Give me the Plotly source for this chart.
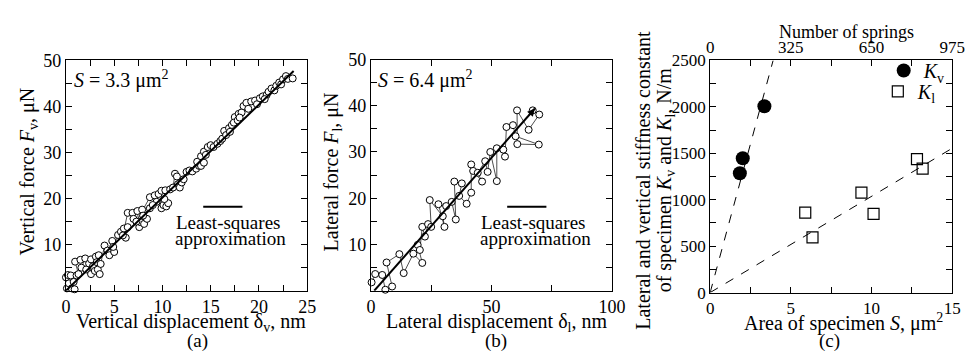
import plotly.graph_objects as go

FONT = "Liberation Serif"
W, H = 975, 354

# ---------------- data ----------------
# (a) vertical force vs vertical displacement, S = 3.3 um2
a_disp = [0.1, 0.3, 0.0, 0.2, 0.8, 0.6, 0.9, 0.5, 1.1,
          1.3, 0.95, 1.5, 2.0, 1.6, 2.1, 2.6, 2.4, 2.6, 3.1, 2.8, 3.0, 3.3, 3.5, 3.4, 3.2, 3.6,
          4.0, 4.3, 4.5, 4.8, 5.0, 4.9, 5.4, 5.7, 6.2, 6.0, 6.4, 5.9,
          6.4, 6.9, 7.0, 7.4, 7.6, 7.7, 7.9, 8.1, 8.4, 8.0, 8.7, 7.3,
          8.7, 9.2, 9.4, 9.6, 9.9, 10.3, 9.9, 10.1, 10.4, 10.6, 10.2, 9.0,
          10.8, 11.1, 11.3, 11.5, 11.6, 11.8, 12.0, 12.2,
          12.5, 12.8, 13.1, 13.5, 13.8, 13.6, 14.0, 14.3, 14.0, 14.3, 14.5, 14.7, 15.0, 15.3,
          15.7, 16.0, 16.2, 16.4, 16.6, 16.9, 17.0, 17.2, 17.5, 17.4, 17.9, 17.8, 18.2, 18.0,
          18.4, 18.7, 18.9, 19.2, 19.6, 19.8, 20.1, 20.4, 20.8, 21.0, 20.6,
          21.3, 21.6, 21.8, 22.1, 22.3, 22.5, 22.8, 23.0, 23.5]
a_force = [0.5, 1.6, 2.9, 3.4, 1.9, 0.5, 0.3, 3.3, 3.3,
           3.6, 6.3, 6.7, 7.0, 5.0, 4.6, 3.6, 5.9, 6.8, 7.4, 5.3, 4.3, 4.6, 3.6, 7.7, 6.2, 5.8,
           9.8, 8.7, 7.7, 10.8, 8.4, 9.5, 12.1, 12.8, 11.5, 13.5, 13.8, 12.0,
           16.9, 16.9, 15.6, 17.3, 13.8, 14.9, 17.6, 14.5, 15.6, 16.3, 17.9, 15.0,
           20.3, 20.7, 19.3, 21.0, 21.7, 21.8, 17.9, 18.6, 18.3, 19.0, 19.9, 18.6,
           22.0, 22.4, 25.4, 24.8, 23.1, 22.4, 23.5, 24.2,
           25.8, 26.1, 25.9, 26.5, 27.1, 28.0, 27.1, 27.8, 29.2, 30.2, 29.5, 31.2, 31.6, 31.2,
           31.9, 32.5, 33.0, 34.7, 33.8, 35.3, 34.5, 36.0, 37.7, 36.5, 38.4, 37.0, 38.7, 37.6,
           40.1, 40.8, 39.5, 41.1, 41.3, 40.5, 41.8, 42.2, 42.5, 43.2, 41.6,
           43.9, 43.5, 44.5, 45.2, 44.8, 45.9, 46.6, 46.0, 46.1]
fit_a_x = [0.0, 23.6]
fit_a_y = [0.0, 47.7]

# (b) lateral force vs lateral displacement, S = 6.4 um2
b_disp = [0.3, 1.8, 4.7, 6.0, 8.8, 6.5, 11.8, 13.6, 17.6, 21.3, 19.4, 20.3,
          21.3, 22.4, 23.7, 25.0, 24.4, 29.8, 30.5, 28.0, 31.2, 33.5, 35.2,
          34.6, 37.7, 36.6, 39.7, 41.6, 41.6, 42.4, 46.1, 44.3, 47.4, 48.4,
          49.5, 52.2, 52.2, 54.9, 55.6, 56.2, 58.9, 60.0, 69.6, 60.7, 60.6,
          65.4, 69.8, 67.1]
b_force = [1.8, 3.6, 3.4, 0.2, 0.9, 6.1, 7.9, 3.8, 8.0, 6.0, 9.9, 8.8,
           13.8, 11.7, 14.4, 13.8, 19.6, 16.1, 13.8, 18.7, 18.3, 19.2, 15.4,
           23.6, 23.2, 20.5, 18.8, 21.2, 27.3, 25.9, 23.6, 25.5, 28.0, 25.7,
           30.0, 23.7, 30.8, 30.5, 29.0, 35.4, 35.8, 33.4, 31.6, 31.7, 39.0,
           34.8, 38.1, 39.0]
fit_b_x = [1.4, 68.0]
fit_b_y = [0.0, 39.4]

# (c) stiffness constants vs specimen area
kv_area = [1.84, 2.02, 3.36]
kv_stiff = [1285, 1447, 2007]
kl_area = [5.89, 6.34, 9.37, 10.12, 12.81, 13.16]
kl_stiff = [860, 594, 1076, 847, 1437, 1336]
kv_fit_x = [0.0, 3.9]
kv_fit_y = [0.0, 2500.0]
kl_fit_x = [0.0, 15.0]
kl_fit_y = [0.0, 1555.0]
springs_range = [0, 975]

a_xticks = [0, 2.5, 5, 7.5, 10, 12.5, 15, 17.5, 20, 22.5, 25]
a_xlabels = ["0", "", "5", "", "10", "", "15", "", "20", "", "25"]
f_yticks = [0, 5, 10, 15, 20, 25, 30, 35, 40, 45, 50]
f_ylabels = ["", "", "10", "", "20", "", "30", "", "40", "", "50"]
b_xticks = [0, 25, 50, 75, 100]
b_xlabels = ["0", "", "50", "", "100"]
c_xticks = [0, 2.5, 5, 7.5, 10, 12.5, 15]
c_xlabels = ["0", "", "5", "", "10", "", "15"]
c_yticks = [0, 250, 500, 750, 1000, 1250, 1500, 1750, 2000, 2250, 2500]
c_ylabels = ["0", "", "500", "", "1000", "", "1500", "", "2000", "", "2500"]
top_ticks = [0, 162.5, 325, 487.5, 650, 812.5, 975]
top_labels = ["0", "", "325", "", "650", "", "975"]


def fx(p):
    return p / W


def fy(p):
    return 1 - p / H


fig = go.Figure()

open_circle = dict(symbol="circle", size=7, color="white",
                   line=dict(color="black", width=1))

fig.add_trace(go.Scatter(x=a_disp, y=a_force, mode="lines+markers",
                         line=dict(color="black", width=0.7), marker=open_circle,
                         cliponaxis=False, showlegend=False, xaxis="x", yaxis="y"))
fig.add_trace(go.Scatter(x=fit_a_x, y=fit_a_y, mode="lines",
                         line=dict(color="black", width=2),
                         showlegend=False, xaxis="x", yaxis="y"))

fig.add_trace(go.Scatter(x=b_disp, y=b_force, mode="lines+markers",
                         line=dict(color="black", width=0.7), marker=open_circle,
                         cliponaxis=False, showlegend=False, xaxis="x2", yaxis="y2"))
fig.add_trace(go.Scatter(x=fit_b_x, y=fit_b_y, mode="lines",
                         line=dict(color="black", width=2),
                         showlegend=False, xaxis="x2", yaxis="y2"))

fig.add_trace(go.Scatter(x=kv_fit_x, y=kv_fit_y, mode="lines",
                         line=dict(color="black", width=1, dash="dash"),
                         showlegend=False, xaxis="x3", yaxis="y3"))
fig.add_trace(go.Scatter(x=kl_fit_x, y=kl_fit_y, mode="lines",
                         line=dict(color="black", width=1, dash="dash"),
                         showlegend=False, xaxis="x3", yaxis="y3"))
fig.add_trace(go.Scatter(x=kv_area, y=kv_stiff, mode="markers",
                         name="<i>K</i><sub>v</sub>", legend="legend",
                         marker=dict(symbol="circle", size=14, color="black"),
                         cliponaxis=False, xaxis="x3", yaxis="y3"))
fig.add_trace(go.Scatter(x=kl_area, y=kl_stiff, mode="markers",
                         name="<i>K</i><sub>l</sub>", legend="legend2",
                         marker=dict(symbol="square-open", size=11, color="black",
                                     line=dict(width=1.2)),
                         cliponaxis=False, xaxis="x3", yaxis="y3"))
fig.add_trace(go.Scatter(x=springs_range, y=[0, 0], mode="markers",
                         marker=dict(opacity=0), showlegend=False, hoverinfo="skip",
                         xaxis="x4", yaxis="y3"))

common = dict(showline=True, linecolor="black", linewidth=1, mirror="ticks",
              ticks="inside", ticklen=6, tickcolor="black", tickwidth=1,
              showgrid=False, zeroline=False, tickmode="array",
              tickfont=dict(family=FONT, size=18, color="black"))
cfont = dict(family=FONT, size=17, color="black")
legfont = dict(family=FONT, size=20, color="black")

fig.update_layout(
    width=W, height=H, margin=dict(l=0, r=0, t=0, b=0),
    paper_bgcolor="white", plot_bgcolor="white",
    font=dict(family=FONT, size=18, color="black"),
    xaxis=dict(common, domain=[fx(54), fx(300)], range=[0, 25],
               tickvals=a_xticks, ticktext=a_xlabels, anchor="y"),
    yaxis=dict(common, domain=[fy(289), fy(45)], range=[0, 50],
               tickvals=f_yticks, ticktext=f_ylabels, anchor="x"),
    xaxis2=dict(common, domain=[fx(365), fx(611)], range=[0, 100],
                tickvals=b_xticks, ticktext=b_xlabels, anchor="y2"),
    yaxis2=dict(common, domain=[fy(289), fy(44)], range=[0, 50],
                tickvals=f_yticks, ticktext=f_ylabels, anchor="x2"),
    xaxis3=dict(common, domain=[fx(711), fx(958)], range=[0, 15],
                tickvals=c_xticks, ticktext=c_xlabels, anchor="y3", tickfont=cfont),
    yaxis3=dict(common, domain=[fy(291), fy(45)], range=[0, 2500],
                tickvals=c_yticks, ticktext=c_ylabels, anchor="x3", tickfont=cfont),
    xaxis4=dict(common, overlaying="x3", side="top", anchor="y3", mirror=False,
                domain=[fx(711), fx(958)], range=[0, 975],
                tickvals=top_ticks, ticktext=top_labels, tickfont=cfont),
    legend=dict(x=fx(888), y=fy(35), xanchor="left", yanchor="top",
                bgcolor="rgba(0,0,0,0)", font=legfont, itemwidth=30),
    legend2=dict(x=fx(882), y=fy(57), xanchor="left", yanchor="top",
                 bgcolor="rgba(0,0,0,0)", font=legfont, itemwidth=30),
)

ann = []


def txt(text, x, y, size=20, angle=0, xanchor="center"):
    ann.append(dict(text=text, x=fx(x), y=fy(y), xref="paper", yref="paper",
                    showarrow=False, xanchor=xanchor, yanchor="middle",
                    textangle=angle, font=dict(family=FONT, size=size, color="black")))


# axis titles
txt("Vertical displacement δ<sub>v</sub>, nm", 182, 323)
txt("Vertical force <i>F</i><sub>v</sub>, μN", 16, 163, angle=-90)
txt("Lateral displacement δ<sub>l</sub>, nm", 493, 323)
txt("Lateral force <i>F</i><sub>l</sub>, μN", 326, 163, angle=-90)
txt("Area of specimen <i>S</i>, μm<sup>2</sup>", 847, 323)
txt("Lateral and vertical stiffness constant", 643, 172, angle=-90)
txt("of specimen <i>K</i><sub>v</sub> and <i>K</i><sub>l</sub>, N/m", 665, 172, angle=-90)
txt("Number of springs", 850, 15, size=18)
# in-panel labels
txt("<i>S</i> = 3.3 μm<sup>2</sup>", 60, 65, xanchor="left")
txt("<i>S</i> = 6.4 μm<sup>2</sup>", 370, 65, xanchor="left")
txt("Least-squares", 219, 217, size=19)
txt("approximation", 222, 234, size=19)
txt("Least-squares", 530, 217, size=19)
txt("approximation", 533, 234, size=19)
# captions
txt("(a)", 188, 342, size=19)
txt("(b)", 493, 342, size=19)
txt("(c)", 833, 342, size=19)

# arrowhead at the end of the (b) fit line
ann.append(dict(x=fit_b_x[1], y=fit_b_y[1], ax=fit_b_x[1] - 3, ay=fit_b_y[1] - 1.8,
                xref="x2", yref="y2", axref="x2", ayref="y2", text="",
                showarrow=True, arrowhead=2, arrowsize=1, arrowwidth=1.5,
                arrowcolor="black"))

fig.update_layout(annotations=ann)

shapes = [
    dict(type="line", xref="paper", yref="paper", x0=fx(194), x1=fx(234),
         y0=fy(200), y1=fy(200), line=dict(color="black", width=2)),
    dict(type="line", xref="paper", yref="paper", x0=fx(504), x1=fx(544),
         y0=fy(200), y1=fy(200), line=dict(color="black", width=2)),
]
fig.update_layout(shapes=shapes)

fig.write_html("out.html")
